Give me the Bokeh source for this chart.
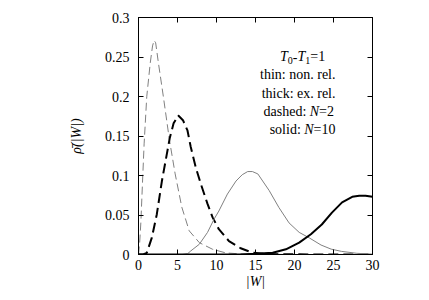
from bokeh.plotting import figure
from bokeh.models import Range1d, FixedTicker, LinearAxis, Label
from bokeh.embed import file_html
from bokeh.resources import INLINE

# ---- data ----
# thin dashed: non-relativistic, N=2
w_nr2 = [0, 0.15, 0.3, 0.55, 0.72, 1.06, 1.5, 1.8, 2.0, 2.2, 2.56, 3.2, 3.95, 4.7, 5.55, 6.5, 7.8, 9.5, 11.2, 13, 15, 20, 30]
p_nr2 = [0, 0.015, 0.04, 0.10, 0.14, 0.20, 0.242, 0.264, 0.271, 0.268, 0.242, 0.199, 0.146, 0.102, 0.060, 0.030, 0.015, 0.0066, 0.002, 0.0008, 0.0003, 0, 0]
# thick dashed: exact relativistic, N=2
w_er2 = [0, 0.6, 1.06, 1.7, 2.35, 3.0, 3.63, 4.0, 4.5, 5.1, 5.7, 6.28, 6.7, 7.35, 8.0, 8.85, 9.5, 10.3, 11.6, 13.1, 14.6, 16, 18, 30]
p_er2 = [0, 0, 0.002, 0.021, 0.051, 0.093, 0.127, 0.147, 0.166, 0.176, 0.170, 0.157, 0.136, 0.110, 0.089, 0.064, 0.047, 0.032, 0.017, 0.0079, 0.0023, 0.0008, 0.0002, 0]
# thin solid: non-relativistic, N=10
w_nr10 = [0, 5.6, 6.3, 6.7, 7.8, 8.85, 9.7, 10.3, 11.4, 12.5, 13.3, 14.0, 14.6, 15.3, 16.75, 18.0, 19.3, 20.6, 21.9, 23.4, 24.7, 26, 28, 30]
p_nr10 = [0, 0, 0.001, 0.0045, 0.013, 0.028, 0.045, 0.055, 0.0765, 0.093, 0.101, 0.105, 0.105, 0.102, 0.081, 0.0595, 0.040, 0.028, 0.021, 0.012, 0.0068, 0.0040, 0.0015, 0.0005]
# thick solid: exact relativistic, N=10
w_er10 = [0, 13, 15, 17.2, 18.9, 20.6, 22.1, 23.5, 24.8, 26.1, 27.4, 28.3, 29.1, 30]
p_er10 = [0, 0, 0.0008, 0.0023, 0.0066, 0.015, 0.0257, 0.038, 0.053, 0.066, 0.073, 0.0745, 0.0745, 0.073]

x_ticks = [0, 5, 10, 15, 20, 25, 30]
x_tick_labels = ["0", "5", "10", "15", "20", "25", "30"]
y_ticks = [0, 0.05, 0.1, 0.15, 0.2, 0.25, 0.3]
y_tick_labels = ["0", "0.05", "0.1", "0.15", "0.2", "0.25", "0.3"]

FONT = "Liberation Serif"

p = figure(width=421, height=292, output_backend="svg", toolbar_location=None,
           x_range=Range1d(0, 30), y_range=Range1d(0, 0.3),
           min_border_left=138, min_border_right=49, min_border_top=17, min_border_bottom=38)
p.background_fill_color = "white"
p.border_fill_color = "white"
p.outline_line_color = "black"
p.outline_line_width = 1
p.grid.visible = False

p.line(w_nr2, p_nr2, line_color="#808080", line_width=1, line_dash="8 4")
p.line(w_er2, p_er2, line_color="black", line_width=2, line_dash="10 5")
p.line(w_nr10, p_nr10, line_color="#808080", line_width=1)
p.line(w_er10, p_er10, line_color="black", line_width=2)

def style_axis(ax, ticks, labels):
    ax.ticker = FixedTicker(ticks=ticks)
    ax.major_label_overrides = {t: l for t, l in zip(ticks, labels)}
    ax.major_tick_in = 5
    ax.major_tick_out = 0
    ax.minor_tick_line_color = None
    ax.axis_line_color = "black"
    ax.major_tick_line_color = "black"
    ax.major_label_text_font = FONT
    ax.major_label_text_font_size = "14px"
    ax.major_label_text_color = "black"
    ax.axis_label_text_font = FONT
    ax.axis_label_text_font_size = "14px"
    ax.axis_label_text_color = "black"

xa = p.xaxis[0]
style_axis(xa, x_ticks, x_tick_labels)
xa.axis_label = "|W|"
xa.axis_label_text_font_style = "italic"
xa.major_label_standoff = 5
xa.axis_label_standoff = 1

ya = p.yaxis[0]
style_axis(ya, y_ticks, y_tick_labels)
ya.axis_label = "\u03c1\u0304(|W|)"
ya.axis_label_text_font_style = "italic"
ya.major_label_standoff = 9
ya.axis_label_standoff = 18

for loc in ("above", "right"):
    ax = LinearAxis()
    style_axis(ax, x_ticks if loc == "above" else y_ticks, [""] * 7)
    ax.major_label_text_font_size = "0px"
    ax.major_label_standoff = 0
    p.add_layout(ax, loc)
p.above[0].ticker = FixedTicker(ticks=x_ticks)
p.right[0].ticker = FixedTicker(ticks=y_ticks)

# annotation text, positioned in data coordinates from page pixels
def dx(px):
    return (px - 138.0) / 7.8

def dy(py):
    return (254.0 - py) / 790.0

def lab(x, y, t, align="left", style="normal", size="14px"):
    p.add_layout(Label(x=dx(x), y=dy(y), text=t, text_align=align, text_baseline="middle",
                       text_font=FONT, text_font_size=size, text_font_style=style,
                       text_color="black"))

fs = 14.0 / 1000.0
# line 1: T0-T1=1
x0 = 279.5
lab(x0, 56, "T", style="italic")
x0 += 556 * fs
lab(x0, 60, "0", size="10px")
x0 += 5.0
lab(x0, 56, "-")
x0 += 333 * fs
lab(x0, 56, "T", style="italic")
x0 += 556 * fs
lab(x0, 60, "1", size="10px")
x0 += 5.0
lab(x0, 56, "=1")

lab(335, 74.3, "thin: non. rel.", align="right")
lab(335, 92.7, "thick: ex. rel.", align="right")

# line 4: dashed: N=2
r = 333.5
lab(r, 111, "=2", align="right")
r -= (564 + 500) * fs
lab(r, 111, "N", align="right", style="italic")
r -= 667 * fs + 250 * fs
lab(r, 111, "dashed:", align="right")

# line 5: solid: N=10
r = 335
lab(r, 129, "=10", align="right")
r -= (564 + 1000) * fs
lab(r, 129, "N", align="right", style="italic")
r -= 667 * fs + 250 * fs
lab(r, 129, "solid:", align="right")

open("out.html", "w").write(file_html(p, INLINE))
